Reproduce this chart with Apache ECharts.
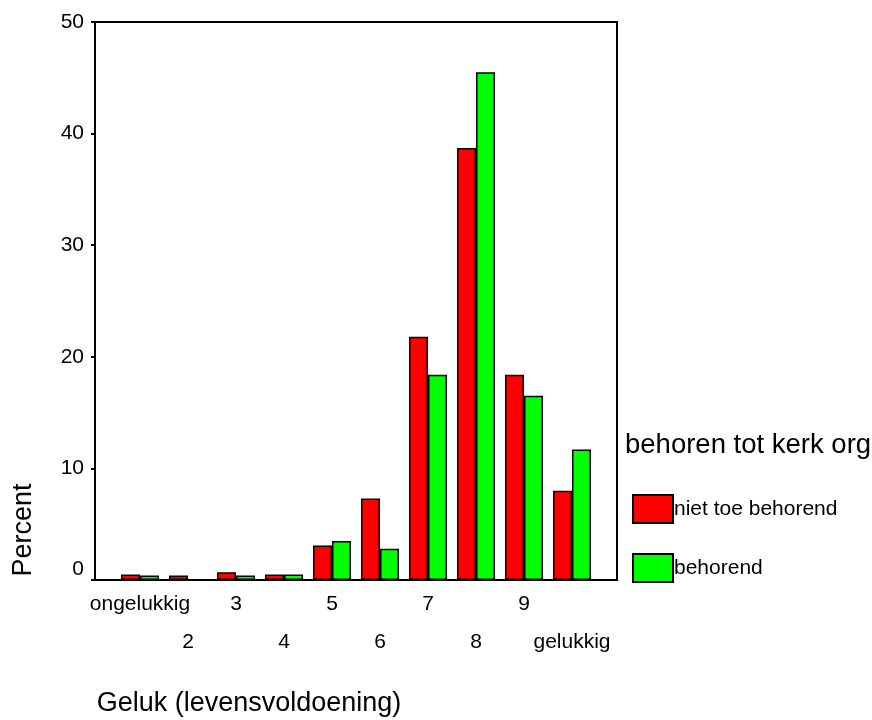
<!DOCTYPE html>
<html>
<head>
<meta charset="utf-8">
<script src="https://cdn.jsdelivr.net/npm/echarts@6/dist/echarts.min.js"></script>
<style>
  html, body { margin: 0; padding: 0; background: #fff; }
  #chart { width: 872px; height: 720px; }
</style>
</head>
<body>
<div id="chart"></div>
<script>
// categories on the x axis (labels alternate between two rows)
const categories = ["ongelukkig", "2", "3", "4", "5", "6", "7", "8", "9", "gelukkig"];
// percent per group
const nietToeBehorend = [0.5, 0.4, 0.7, 0.5, 3.1, 7.3, 21.8, 38.7, 18.4, 8.0];
const behorend = [0.4, 0, 0.4, 0.5, 3.5, 2.8, 18.4, 45.5, 16.5, 11.7];
const seriesNames = ["niet toe behorend", "behorend"];
const yTicks = { min: 0, max: 50, interval: 10 };

const font = "Liberation Sans, Arial, Helvetica, sans-serif";

const chart = echarts.init(document.getElementById("chart"));

chart.setOption({
  animation: false,
  textStyle: { fontFamily: font, color: "#000" },
  grid: [
    // frame with the y axis
    { left: 95, top: 22, width: 522, height: 558, show: true, borderColor: "#000", borderWidth: 2, backgroundColor: "transparent" },
    // inner area that holds the categories
    { left: 116, top: 22, width: 480, height: 558 },
  ],
  xAxis: [
    { gridIndex: 0, type: "value", show: false },
    {
      gridIndex: 1,
      type: "category",
      data: categories,
      axisLine: { show: false },
      axisTick: { alignWithLabel: true, length: 3, lineStyle: { color: "#000", width: 2 } },
      axisLabel: {
        interval: 0,
        hideOverlap: false,
        margin: 5,
        fontSize: 21,
        lineHeight: 38,
        color: "#000",
        fontFamily: font,
        formatter: (value, index) => (index % 2 ? "\n" + value : value),
      },
    },
  ],
  yAxis: [
    {
      gridIndex: 0,
      type: "value",
      min: yTicks.min,
      max: yTicks.max,
      interval: yTicks.interval,
      splitLine: { show: false },
      axisLine: { show: true, lineStyle: { color: "#000", width: 2 } },
      axisTick: { show: true, length: 4, lineStyle: { color: "#000", width: 2 } },
      axisLabel: {
        fontSize: 21,
        color: "#000",
        margin: 11,
        fontFamily: font,
        // the 0 label sits a bit above its tick
        formatter: (value) => (value === 0 ? "{z|0}" : value),
        rich: { z: { fontSize: 21, fontFamily: font, color: "#000", padding: [0, 0, 21, 0] } },
      },
    },
    { gridIndex: 1, type: "value", min: yTicks.min, max: yTicks.max, show: false },
  ],
  legend: {
    orient: "vertical",
    left: 632,
    top: 494,
    padding: 0,
    itemWidth: 40,
    itemHeight: 28,
    itemGap: 29,
    icon: "rect",
    data: seriesNames,
    textStyle: { fontSize: 21, color: "#000", fontFamily: font, padding: [0, 0, 0, -4] },
  },
  graphic: [
    {
      type: "text",
      x: 24,
      y: 530,
      rotation: Math.PI / 2,
      style: { text: "Percent", font: "27px " + font, fill: "#000", textAlign: "center", textVerticalAlign: "middle" },
    },
    {
      type: "text",
      x: 249,
      y: 704,
      style: { text: "Geluk (levensvoldoening)", font: "27px " + font, fill: "#000", textAlign: "center", textVerticalAlign: "middle" },
    },
    {
      type: "text",
      x: 625,
      y: 445,
      style: { text: "behoren tot kerk org", font: "27.5px " + font, fill: "#000", textAlign: "left", textVerticalAlign: "middle" },
    },
  ],
  series: [
    {
      name: seriesNames[0],
      type: "bar",
      xAxisIndex: 1,
      yAxisIndex: 1,
      barWidth: 19,
      barGap: "0%",
      data: nietToeBehorend,
      itemStyle: { color: "#ff0000", borderColor: "#000", borderWidth: 1.5 },
    },
    {
      name: seriesNames[1],
      type: "bar",
      xAxisIndex: 1,
      yAxisIndex: 1,
      barWidth: 19,
      barGap: "0%",
      data: behorend,
      itemStyle: { color: "#00ff00", borderColor: "#000", borderWidth: 1.5 },
    },
  ],
});
</script>
</body>
</html>
